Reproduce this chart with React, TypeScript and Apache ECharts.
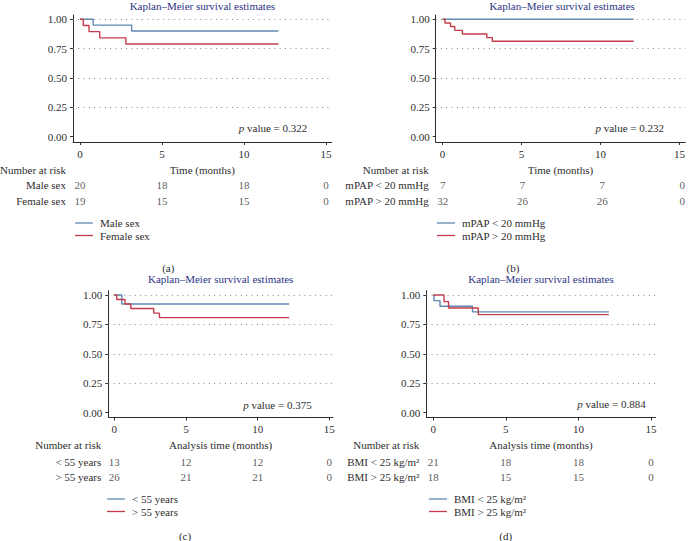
import React, { useEffect, useRef } from "react";
import * as echarts from "echarts";

// ---------------- data ----------------
const chartTitle = "Kaplan–Meier survival estimates";
const panelLetters = ["(a)", "(b)", "(c)", "(d)"];
const xTicks = [0, 5, 10, 15];
const yTicks = [0, 0.25, 0.5, 0.75, 1];
const gridValues = [0.25, 0.5, 0.75, 1];
const riskTimes = [0, 5, 10, 15];
const riskHeader = "Number at risk";

// (a) sex
const aGroups = ["Male sex", "Female sex"];
const aTimes1 = [0, 0.8, 3.15, 12.1];
const aSurv1 = [1, 0.95, 0.9, 0.9];
const aTimes2 = [0, 0.2, 0.55, 1.2, 2.8, 12.1];
const aSurv2 = [1, 0.947, 0.895, 0.842, 0.789, 0.789];
const aRisk1 = [20, 18, 18, 0];
const aRisk2 = [19, 15, 15, 0];
const aP = "0.322";
const aXName = "Time (months)";

// (b) mPAP
const bGroups = ["mPAP < 20 mmHg", "mPAP > 20 mmHg"];
const bTimes1 = [0, 12.1];
const bSurv1 = [1, 1];
const bTimes2 = [0, 0.15, 0.5, 0.77, 1.25, 2.8, 3.15, 12.1];
const bSurv2 = [1, 0.969, 0.938, 0.906, 0.875, 0.844, 0.813, 0.813];
const bRisk1 = [7, 7, 7, 0];
const bRisk2 = [32, 26, 26, 0];
const bP = "0.232";
const bXName = "Time (months)";

// (c) age
const cGroups = ["< 55 years", "> 55 years"];
const cTimes1 = [0, 0.52, 12.2];
const cSurv1 = [1, 0.923, 0.923];
const cTimes2 = [0, 0.17, 0.75, 1.15, 2.75, 3.15, 12.2];
const cSurv2 = [1, 0.962, 0.923, 0.885, 0.846, 0.808, 0.808];
const cRisk1 = [13, 12, 12, 0];
const cRisk2 = [26, 21, 21, 0];
const cP = "0.375";
const cXName = "Analysis time (months)";

// (d) BMI
const dGroups = ["BMI < 25 kg/m²", "BMI > 25 kg/m²"];
const dTimes1 = [0, 0.05, 0.46, 2.7, 12.1];
const dSurv1 = [1, 0.952, 0.905, 0.857, 0.857];
const dTimes2 = [0, 0.74, 1.05, 3.1, 12.1];
const dSurv2 = [1, 0.944, 0.889, 0.833, 0.833];
const dRisk1 = [21, 18, 18, 0];
const dRisk2 = [18, 15, 15, 0];
const dP = "0.884";
const dXName = "Analysis time (months)";

// ---------------- styles / layout ----------------
const FONT = "'Liberation Serif', 'DejaVu Serif', serif";
const FS = 11;
const TEXT = "#2e2e2e";
const TITLE_COLOR = "#2d3384";
const BLUE = "#6088b4";
const RED = "#c43c4c";
const GRID_COLOR = "#8a8a8a";

const panels = [
  { groups: aGroups, t1: aTimes1, s1: aSurv1, t2: aTimes2, s2: aSurv2, r1: aRisk1, r2: aRisk2, p: aP, xName: aXName },
  { groups: bGroups, t1: bTimes1, s1: bSurv1, t2: bTimes2, s2: bSurv2, r1: bRisk1, r2: bRisk2, p: bP, xName: bXName },
  { groups: cGroups, t1: cTimes1, s1: cSurv1, t2: cTimes2, s2: cSurv2, r1: cRisk1, r2: cRisk2, p: cP, xName: cXName },
  { groups: dGroups, t1: dTimes1, s1: dSurv1, t2: dTimes2, s2: dSurv2, r1: dRisk1, r2: dRisk2, p: dP, xName: dXName },
];

const layouts = [
  { left: 73, right: 331.7, x0: 80, x15: 326, top: 15, bottom: 142, y1: 19.3, y0: 136.6,
    titleY: 6, headY: 170, rows: [185, 200.7], legLeft: 75, legTop: 217.5, letter: [168.3, 268], pv: [307.3, 127.7] },
  { left: 435.7, right: 688.5, x0: 442.7, x15: 682.7, top: 15, bottom: 142, y1: 19.3, y0: 136.6,
    titleY: 6, headY: 170, rows: [185, 200.7], legLeft: 437, legTop: 217.5, letter: [513, 268], pv: [664, 127.7] },
  { left: 108.3, right: 333, x0: 114.3, x15: 329.3, top: 290.7, bottom: 417.5, y1: 295, y0: 412.7,
    titleY: 279.3, headY: 445, rows: [461.7, 477.3], legLeft: 107, legTop: 493.5, letter: [185, 536], pv: [311.7, 405] },
  { left: 426.3, right: 655.7, x0: 433.3, x15: 651, top: 290.7, bottom: 417.5, y1: 295, y0: 412.7,
    titleY: 279.3, headY: 445, rows: [461.7, 477.3], legLeft: 429, legTop: 493.5, letter: [505.7, 536], pv: [645.7, 404.3] },
];

const textStyleBase = { color: TEXT, fontFamily: FONT, fontSize: FS };

function gText(x: number, y: number, text: string, align: string, fill = TEXT, extra: any = {}) {
  return {
    type: "text",
    x,
    y,
    silent: true,
    style: {
      text,
      x: 0,
      y: 0,
      fill,
      font: `${FS}px ${FONT}`,
      fontFamily: FONT,
      fontSize: FS,
      align,
      verticalAlign: "middle",
      textAlign: align,
      textVerticalAlign: "middle",
      ...extra,
    },
  };
}

function buildOption() {
  const grid: any[] = [];
  const xAxis: any[] = [];
  const yAxis: any[] = [];
  const series: any[] = [];
  const legend: any[] = [];
  const graphic: any[] = [];

  panels.forEach((p, i) => {
    const L = layouts[i];
    const ppu = (L.x15 - L.x0) / 15;
    const xmin = (L.left - L.x0) / ppu;
    const xmax = 15 + (L.right - L.x15) / ppu;
    const ppv = L.y0 - L.y1;
    const ymin = -(L.bottom - L.y0) / ppv;
    const ymax = 1 + (L.y1 - L.top) / ppv;
    const rowH = L.rows[1] - L.rows[0];
    const mainIdx = 2 * i;
    const riskIdx = 2 * i + 1;

    grid.push({ left: L.left, top: L.top, width: L.right - L.left, height: L.bottom - L.top, containLabel: false });
    grid.push({ left: L.left, top: L.rows[0] - rowH / 2, width: L.right - L.left, height: rowH * 2, containLabel: false });

    xAxis.push({
      gridIndex: mainIdx,
      type: "value",
      min: xmin,
      max: xmax,
      axisLine: { show: true, onZero: false, lineStyle: { color: TEXT, width: 1 } },
      axisTick: { show: true, customValues: xTicks, length: 3, lineStyle: { color: TEXT, width: 1 } },
      axisLabel: { show: true, customValues: xTicks, margin: 6, ...textStyleBase },
      splitLine: { show: false },
      name: p.xName,
      nameLocation: "middle",
      nameGap: 22,
      nameTextStyle: { ...textStyleBase },
    });
    yAxis.push({
      gridIndex: mainIdx,
      type: "value",
      min: ymin,
      max: ymax,
      axisLine: { show: true, onZero: false, lineStyle: { color: TEXT, width: 1 } },
      axisTick: { show: true, customValues: yTicks, length: 3, lineStyle: { color: TEXT, width: 1 } },
      axisLabel: {
        show: true,
        customValues: yTicks,
        margin: 6,
        formatter: (v: number) => v.toFixed(2),
        ...textStyleBase,
      },
      splitLine: { show: false },
    });

    xAxis.push({ gridIndex: riskIdx, type: "value", min: xmin, max: xmax, show: false });
    yAxis.push({
      gridIndex: riskIdx,
      type: "category",
      data: p.groups,
      inverse: true,
      axisLine: { show: false },
      axisTick: { show: false },
      splitLine: { show: false },
      axisLabel: { show: true, margin: 7, ...textStyleBase },
    });

    // dotted reference lines
    series.push({
      type: "line",
      name: `grid-${i}`,
      xAxisIndex: mainIdx,
      yAxisIndex: mainIdx,
      data: [],
      silent: true,
      z: 1,
      markLine: {
        silent: true,
        symbol: ["none", "none"],
        label: { show: false },
        lineStyle: { color: GRID_COLOR, type: [1, 4.3], width: 1 },
        emphasis: { disabled: true },
        data: gridValues.map((v) => ({ yAxis: v })),
      },
    });

    const curves = [
      { name: p.groups[0], t: p.t1, s: p.s1, color: BLUE },
      { name: p.groups[1], t: p.t2, s: p.s2, color: RED },
    ];
    curves.forEach((c) => {
      series.push({
        type: "line",
        name: c.name,
        xAxisIndex: mainIdx,
        yAxisIndex: mainIdx,
        step: "end",
        symbol: "none",
        showSymbol: false,
        silent: true,
        z: 3,
        data: c.t.map((t, j) => [t, c.s[j]]),
        lineStyle: { color: c.color, width: 1.4 },
        itemStyle: { color: c.color },
      });
    });

    const riskData: any[] = [];
    [p.r1, p.r2].forEach((row, r) => {
      row.forEach((n, j) => riskData.push([riskTimes[j], r, n]));
    });
    series.push({
      type: "scatter",
      name: `risk-${i}`,
      xAxisIndex: riskIdx,
      yAxisIndex: riskIdx,
      symbolSize: 1,
      itemStyle: { color: "rgba(0,0,0,0)" },
      silent: true,
      data: riskData,
      label: {
        show: true,
        position: "inside",
        formatter: (q: any) => String(q.value[2]),
        ...textStyleBase,
      },
    });

    legend.push({
      orient: "vertical",
      left: L.legLeft,
      top: L.legTop,
      padding: 0,
      icon: "rect",
      itemWidth: 18,
      itemHeight: 1.3,
      itemGap: 1.5,
      selectedMode: false,
      data: p.groups,
      textStyle: { ...textStyleBase, padding: [0, 0, 0, 2] },
    });

    const cx = (L.left + L.right) / 2;
    graphic.push(gText(cx, L.titleY, chartTitle, "center", TITLE_COLOR));
    graphic.push(gText(L.left - 7, L.headY, riskHeader, "right"));
    graphic.push(gText(L.letter[0], L.letter[1], panelLetters[i], "center"));
    graphic.push(
      gText(L.pv[0], L.pv[1], `{i|p} value = ${p.p}`, "right", TEXT, {
        rich: { i: { fontStyle: "italic", fontFamily: FONT, fontSize: FS, fill: TEXT, color: TEXT } },
      })
    );
  });

  return {
    animation: false,
    backgroundColor: "#ffffff",
    grid,
    xAxis,
    yAxis,
    series,
    legend,
    graphic,
  };
}

export default function App() {
  const ref = useRef<HTMLDivElement>(null);
  useEffect(() => {
    if (!ref.current) return;
    const chart = echarts.init(ref.current, null, { renderer: "svg" });
    chart.setOption(buildOption() as any);
    return () => chart.dispose();
  }, []);
  return (
    <div
      ref={ref}
      style={{ position: "fixed", left: 0, top: 0, width: 688, height: 541, background: "#fff" }}
    />
  );
}
